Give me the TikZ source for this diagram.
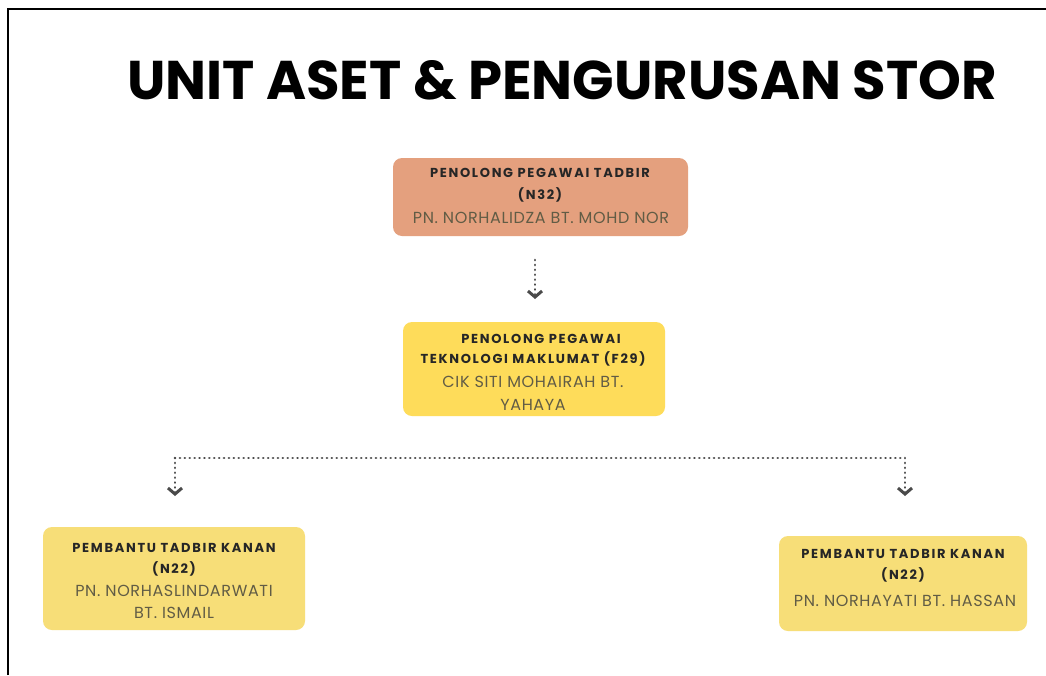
\documentclass[tikz,border=0pt]{standalone}
\usepackage{fontspec}
\setmainfont{Poppins}
\newfontfamily\roleface[LetterSpace=13]{Poppins}
\newfontfamily\personface[LetterSpace=4]{Poppins}
\usetikzlibrary{arrows.meta}
\definecolor{salmon}{HTML}{E4A07E}
\definecolor{gold}{HTML}{FEDC5A}
\definecolor{paleGold}{HTML}{F7DE78}
\definecolor{nameGray}{HTML}{615C45}
\definecolor{linkGray}{HTML}{4A4A4A}
\tikzset{
  card/.style={rounded corners=9pt, inner sep=0pt, draw=none},
  rolebold/.style={font=\roleface\fontsize{13}{15}\selectfont\bfseries, text=black!85},
  person/.style={font=\personface\fontsize{16}{18}\selectfont, text=nameGray},
  plain link/.style={draw=linkGray, line width=2.7pt, line cap=round,
    dash pattern=on 0.1pt off 4.8pt},
  link/.style={plain link,
    -{Straight Barb[length=6pt,width=14pt,line width=3pt]}}
}
\begin{document}
\begin{tikzpicture}[x=1pt,y=-1pt]
\useasboundingbox (0,0) rectangle (1046,675);
\fill[white] (0,0) rectangle (1046,675);
% frame
\draw[line width=2pt] (8,675) -- (8,9) -- (1046,9);

% heading
\node[font=\fontsize{54.5}{60}\selectfont\bfseries, anchor=base] (title) at (562,99) {UNIT ASET \& PENGURUSAN STOR};

% cards
\fill[salmon, card] (393,158) rectangle (688,236);
\node[rolebold, anchor=base] (t1) at (540,177) {PENOLONG PEGAWAI TADBIR};
\node[rolebold, anchor=base] (t2) at (540,199) {(N32)};
\node[person, anchor=base] (t3) at (541,223) {PN. NORHALIDZA BT. MOHD NOR};

\fill[gold, card] (403,322) rectangle (665,416);
\node[rolebold, anchor=base] (m1) at (541,343) {PENOLONG PEGAWAI};
\node[rolebold, anchor=base] (m2) at (533,363) {TEKNOLOGI MAKLUMAT (F29)};
\node[person, anchor=base] (m3) at (533,387) {CIK SITI MOHAIRAH BT.};
\node[person, anchor=base] (m4) at (533,410) {YAHAYA};

\fill[paleGold, card] (43,527) rectangle (305,630);
\node[rolebold, anchor=base] (l1) at (174,552) {PEMBANTU TADBIR KANAN};
\node[rolebold, anchor=base] (l2) at (174,573) {(N22)};
\node[person, anchor=base] (l3) at (174,596) {PN. NORHASLINDARWATI};
\node[person, anchor=base] (l4) at (174,618) {BT. ISMAIL};

\fill[paleGold, card] (779,536) rectangle (1027,631);
\node[rolebold, anchor=base] (r1) at (903,558) {PEMBANTU TADBIR KANAN};
\node[rolebold, anchor=base] (r2) at (903,579) {(N22)};
\node[person, anchor=base] (r3) at (905,606) {PN. NORHAYATI BT. HASSAN};

% connectors
\coordinate (a1s) at (535,260);
\coordinate (a1e) at (535,299);
\draw[link] (a1s) -- (a1e);

\coordinate (hl) at (175,458);
\coordinate (hr) at (905,458);
\coordinate (dl) at (175,496);
\coordinate (dr) at (905,496);
\draw[plain link] (hl) -- (hr);
\draw[link] (hl) -- (dl);
\draw[link] (hr) -- (dr);
\end{tikzpicture}
\end{document}
